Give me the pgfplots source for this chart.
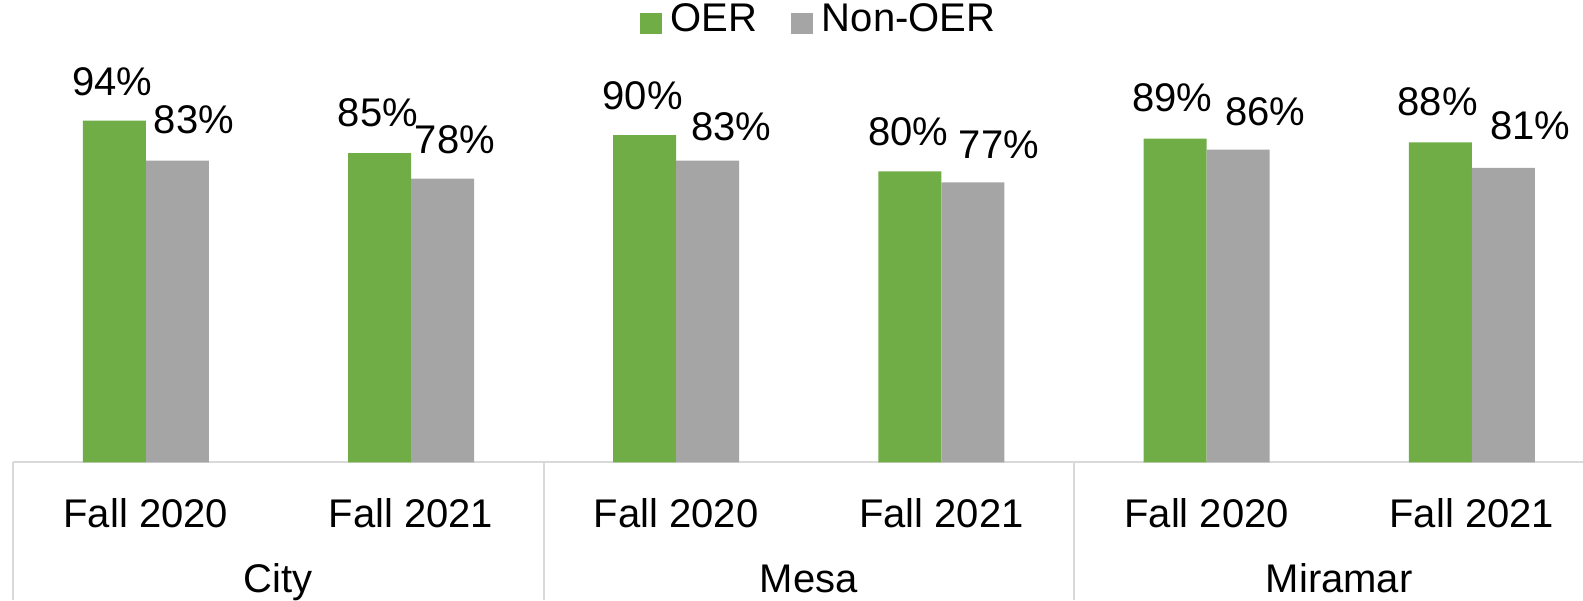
\documentclass[border=0pt]{standalone}
\usepackage{fontspec}
\setmainfont{Liberation Sans}
\usepackage{pgfplots}
\pgfplotsset{compat=1.18}
\usepackage{pgfplotstable}
\definecolor{oer}{HTML}{70AD47}
\definecolor{non}{HTML}{A5A5A5}
\definecolor{sepc}{HTML}{D9D9D9}

\pgfplotstableread{
x y dx dy
0 94 -2 23.4
1 85 -1.5 26
2 90 -2 24
3 80 -1.6 24.3
4 89 -2.6 26
5 88 -2.7 25.4
}\oerdata

\pgfplotstableread{
x y dx dy
0 83 16.7 25.7
1 78 12.5 24
2 83 23.6 19
3 77 26 22.7
4 86 27 23
5 81 27 26.7
}\nondata

\begin{document}
\begin{tikzpicture}
\begin{axis}[
  name=ax,
  scale only axis, width=397.8pt, height=90.9pt,
  xmin=-0.5, xmax=5.5, ymin=0, ymax=100,
  clip=false,
  axis x line=bottom, axis y line=none,
  axis line style={-, draw=sepc, line width=0.5pt},
  xtick={0,1,2,3,4,5},
  xticklabels={Fall 2020,Fall 2021,Fall 2020,Fall 2021,Fall 2020,Fall 2021},
  major tick length=0pt,
  xticklabel style={anchor=base, yshift=-16.2pt, inner sep=0pt, font=\normalsize, text=black},
  extra x ticks={-0.5,1.5,3.5,5.5},
  extra x tick labels={},
  extra x tick style={major tick length=34.5pt, tick align=outside, tick style={draw=sepc, line width=0.5pt}},
  ybar=0pt, bar width=15.75pt,
  /pgf/number format/assume math mode=true,
  nodes near coords={\pgfmathprintnumber{\pgfplotspointmeta}\%},
  visualization depends on={\thisrow{dx} \as \dx},
  visualization depends on={\thisrow{dy} \as \dy},
  every node near coord/.append style={inner sep=0pt, font=\normalsize, text=black, xshift={\dx*0.25pt}, yshift={\dy*0.25pt}},
  legend columns=-1,
  legend style={at={(axis cs:1.8635,116.8)}, anchor=south west, draw=none, fill=none, inner sep=0pt, outer sep=0pt, font=\normalsize,
    nodes={inner sep=0pt},
    /tikz/every odd column/.append style={column sep=2.2pt},
    /tikz/every even column/.append style={column sep=8.6pt}},
  legend image code/.code={\fill[#1] (0pt,-3.4pt) rectangle (5.4pt,2.0pt);},
]
\addplot[fill=oer, draw=none] table[x=x,y=y] {\oerdata};
\addlegendentry{OER}
\addplot[fill=non, draw=none] table[x=x,y=y] {\nondata};
\addlegendentry{Non-OER}
\node[anchor=base, inner sep=0pt] at (axis cs:0.5,0) [yshift=-32.5pt] {City};
\node[anchor=base, inner sep=0pt] at (axis cs:2.5,0) [yshift=-32.5pt] {Mesa};
\node[anchor=base, inner sep=0pt] at (axis cs:4.5,0) [yshift=-32.5pt] {Miramar};
\end{axis}
\pgfresetboundingbox
\path[use as bounding box] ([xshift=-3.3pt,yshift=-34.425pt]ax.south west) rectangle ([xshift=392.45pt,yshift=115.575pt]ax.south west);
\end{tikzpicture}
\end{document}
